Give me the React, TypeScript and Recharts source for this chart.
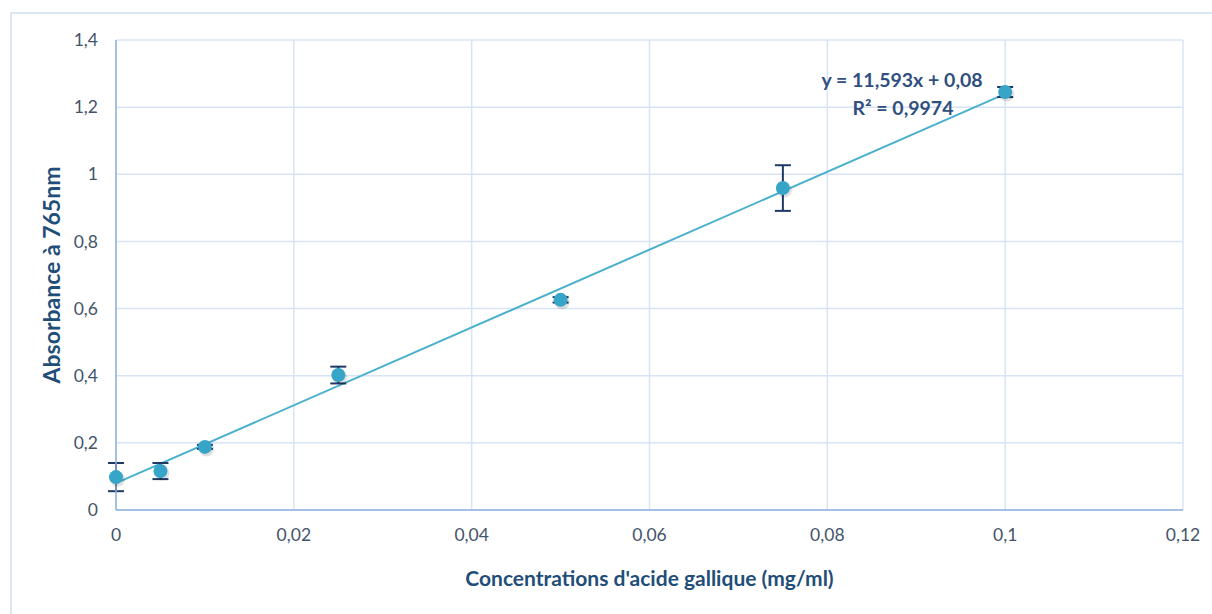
import { ComposedChart, Scatter, Line, XAxis, YAxis, CartesianGrid, ErrorBar } from 'recharts';

const concentrations = [0, 0.005, 0.01, 0.025, 0.05, 0.075, 0.1];
const absorbance = [0.098, 0.116, 0.188, 0.402, 0.626, 0.959, 1.245];
const errors = [0.042, 0.024, 0.006, 0.025, 0.008, 0.068, 0.015];
const xTicks = [0, 0.02, 0.04, 0.06, 0.08, 0.1, 0.12];
const yTicks = [0, 0.2, 0.4, 0.6, 0.8, 1, 1.2, 1.4];
const slope = 11.593;
const intercept = 0.08;
const trendX = [0, 0.1];

const points = concentrations.map((x, i) => ({ x, y: absorbance[i], err: errors[i] }));
const trend = trendX.map((x) => ({ x, fit: slope * x + intercept }));

const fmt = (v: number) => String(v).replace('.', ',');
const textBlue = '#1f4e79';
const tickColor = '#44546a';

function Dot(props: { cx?: number; cy?: number }) {
  const { cx = 0, cy = 0 } = props;
  return (
    <g>
      <circle cx={cx + 1.5} cy={cy + 2} r={7.5} fill="#000" opacity={0.12} />
      <circle cx={cx} cy={cy} r={7} fill="#37a5c8" />
    </g>
  );
}

export default function App() {
  return (
    <div style={{ position: 'absolute', left: 0, top: 0, width: 1212, height: 614, background: '#fff', overflow: 'hidden' }}>
      <div style={{ position: 'absolute', left: 10, top: 12, width: 1230, height: 640, border: '2px solid #dce5f2' }} />
      <ComposedChart width={1212} height={614} margin={{ top: 40, right: 29, bottom: 64, left: 0 }}>
        <CartesianGrid stroke="#d8e4f5" strokeWidth={1.5} />
        <XAxis
          dataKey="x"
          type="number"
          domain={[0, 0.12]}
          ticks={xTicks}
          tickFormatter={fmt}
          height={40}
          tickSize={0}
          tickMargin={19}
          axisLine={{ stroke: '#8fb2de', strokeWidth: 1.5 }}
          tick={{ fill: tickColor, fontSize: 17.5, fontFamily: 'Lato' }}
          label={{ value: "Concentrations d'acide gallique (mg/ml)", position: 'insideBottom', offset: -36, fill: textBlue, fontSize: 21, fontWeight: 700, fontFamily: 'Lato' }}
        />
        <YAxis
          type="number"
          domain={[0, 1.4]}
          ticks={yTicks}
          tickFormatter={fmt}
          width={116}
          tickSize={0}
          tickMargin={18}
          axisLine={{ stroke: '#8fb2de', strokeWidth: 1.5 }}
          tick={{ fill: tickColor, fontSize: 17.5, fontFamily: 'Lato' }}
          label={{ value: 'Absorbance à 765nm', angle: -90, position: 'insideLeft', offset: 52, fill: textBlue, fontSize: 23, fontWeight: 700, fontFamily: 'Lato', style: { textAnchor: 'middle' } }}
        />
        <Line data={trend} dataKey="fit" type="linear" stroke="#4bb0cc" strokeWidth={2} dot={false} isAnimationActive={false} />
        <Scatter data={points} dataKey="y" shape={<Dot />} isAnimationActive={false}>
          <ErrorBar dataKey="err" direction="y" width={8} stroke="#1f3864" strokeWidth={2} />
        </Scatter>
      </ComposedChart>
      <div style={{ position: 'absolute', left: 802, top: 66, width: 200, textAlign: 'center', fontFamily: 'Lato', fontWeight: 700, fontSize: 19.5, lineHeight: '28px', color: '#2f4f7f' }}>
        <div>y = 11,593x + 0,08</div>
        <div style={{ paddingLeft: 2 }}>R² = 0,9974</div>
      </div>
    </div>
  );
}
